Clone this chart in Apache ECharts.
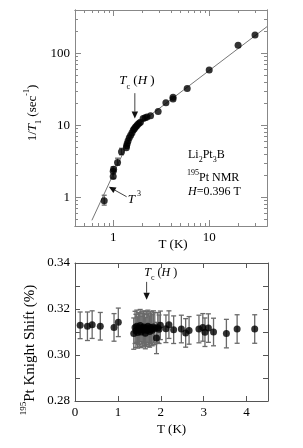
<!DOCTYPE html>
<html><head><meta charset="utf-8">
<script src="https://cdn.jsdelivr.net/npm/echarts@6/dist/echarts.min.js"></script>
<style>html,body{margin:0;padding:0;background:#fff}#c{width:303px;height:448px}</style>
</head><body><div id="c"></div>
<script>
// ---- Top panel: 1/T1 vs T (log-log) ----
const t1T    = [0.806, 1.0, 1.0, 1.01, 1.11, 1.22, 1.37, 1.38, 1.40, 1.43, 1.47, 1.52, 1.57, 1.62, 1.66, 1.70, 1.75, 1.80, 1.86, 1.92, 2.05, 2.15, 2.25, 2.45, 2.94, 3.54, 4.2, 4.2, 5.9, 10, 20, 30];
const t1Rate = [0.9, 1.95, 2.3, 2.45, 3.05, 4.3, 4.9, 5.2, 5.6, 6.1, 6.7, 7.3, 7.9, 8.6, 9.0, 9.4, 9.8, 10.3, 10.7, 11.0, 12.4, 12.8, 13.1, 13.6, 15.6, 20.6, 23.2, 24.5, 32.5, 58.5, 130, 180];
const t1ErrT  = [0.806, 1.0, 1.11, 1.22];
const t1ErrLo = [0.78, 1.84, 2.8, 3.9];
const t1ErrHi = [1.07, 2.66, 3.5, 4.8];
const fitT    = [0.6, 1.7, 40];
const fitRate = [0.48, 9.6, 235];
const topXMajor = [1, 10];
const topXMinor = [0.4,0.5,0.6,0.7,0.8,0.9,2,3,4,5,6,7,8,9,20,30,40];
const topYMajor = [1, 10, 100];
const topYMinor = [0.4,0.5,0.6,0.7,0.8,0.9,2,3,4,5,6,7,8,9,20,30,40,50,60,70,80,90,200,300,400];

// ---- Bottom panel: Knight shift vs T ----
const ksT = [0.12,0.29,0.40,0.59,0.91,1.01,
  1.37,1.40,1.42,1.44,1.46,1.48,1.50,1.52,1.54,1.56,1.58,1.60,1.62,1.64,1.66,1.68,1.70,1.72,1.74,1.76,1.78,1.80,1.83,1.86,1.90,1.93,1.96,1.99,
  2.12,2.19,2.30,2.48,2.58,2.66,2.89,2.98,3.03,3.11,3.23,3.53,3.78,4.19];
const ksVal = [0.3129,0.3125,0.3132,0.3125,0.3120,0.3142,
  0.3093,0.3120,0.3105,0.3125,0.3098,0.3115,0.3110,0.3128,0.3100,0.3118,0.3108,0.3122,0.3112,0.3095,0.3118,0.3106,0.3125,0.3110,0.3102,0.3120,0.3113,0.3108,0.3122,0.3115,0.3074,0.3119,0.3112,0.3129,
  0.3114,0.3132,0.3110,0.3113,0.3096,0.3107,0.3113,0.3120,0.3099,0.3117,0.3100,0.3093,0.3113,0.3113];
const ksErr = [0.0058,0.0062,0.0060,0.0060,0.0060,0.0062,
  0.0068,0.0070,0.0072,0.0070,0.0068,0.0070,0.0072,0.0070,0.0068,0.0070,0.0072,0.0070,0.0070,0.0068,0.0072,0.0070,0.0070,0.0072,0.0068,0.0070,0.0070,0.0068,0.0070,0.0070,0.0068,0.0065,0.0062,0.0062,
  0.0060,0.0060,0.0060,0.0060,0.0062,0.0060,0.0060,0.0060,0.0062,0.0062,0.0060,0.0062,0.0062,0.0062];

const FONT = 'Liberation Serif';
const AX = '#888';
const AX2 = '#555';
const chart = echarts.init(document.getElementById('c'), null, {renderer:'canvas'});

function errItem(params, api){
  const x = api.value(0), lo = api.value(1), hi = api.value(2);
  const a = api.coord([x, lo]), b = api.coord([x, hi]);
  const w = 2.5, st = {stroke:'#6a6a6a', lineWidth:1.3};
  return {type:'group', children:[
    {type:'line', shape:{x1:a[0],y1:a[1],x2:b[0],y2:b[1]}, style:st},
    {type:'line', shape:{x1:a[0]-w,y1:a[1],x2:a[0]+w,y2:a[1]}, style:st},
    {type:'line', shape:{x1:b[0]-w,y1:b[1],x2:b[0]+w,y2:b[1]}, style:st}
  ]};
}

function logAxis(pos, gridIndex, vals, len, showLabel, min, max){
  return {type:'log', logBase:10, gridIndex, position:pos, min, max,
    axisLine:{show:true, onZero:false, lineStyle:{color:AX, width:1}},
    axisTick:{show:true, inside:true, length:len, customValues:vals, lineStyle:{color:AX}},
    axisLabel:{show:showLabel, customValues:vals, fontFamily:FONT, fontSize:13, color:'#000', margin:5,
      formatter:v=>String(Math.round(v))},
    splitLine:{show:false}, minorTick:{show:false}};
}

const xAxes = [
  logAxis('bottom',0,topXMajor,6,true,0.4,40),
  logAxis('bottom',0,topXMinor,3,false,0.4,40),
  logAxis('top',0,topXMajor,6,false,0.4,40),
  logAxis('top',0,topXMinor,3,false,0.4,40),
  {type:'value', gridIndex:1, position:'bottom', min:0, max:4.5, interval:1,
    axisLine:{show:true,onZero:false,lineStyle:{color:AX2}},
    axisTick:{show:true,inside:true,length:5,lineStyle:{color:AX2}},
    axisLabel:{fontFamily:FONT,fontSize:13,color:'#000',margin:5, showMaxLabel:false},
    splitLine:{show:false},
    name:'T (K)', nameLocation:'middle', nameGap:22, nameTextStyle:{fontFamily:FONT,fontSize:13,color:'#000'}},
  {type:'value', gridIndex:1, position:'top', min:0, max:4.5, interval:1,
    axisLine:{show:true,onZero:false,lineStyle:{color:AX2}},
    axisTick:{show:true,inside:true,length:5,lineStyle:{color:AX2}},
    axisLabel:{show:false}, splitLine:{show:false}}
];
const yAxes = [
  logAxis('left',0,topYMajor,6,true,0.4,400),
  logAxis('left',0,topYMinor,3,false,0.4,400),
  logAxis('right',0,topYMajor,6,false,0.4,400),
  logAxis('right',0,topYMinor,3,false,0.4,400),
  {type:'value', gridIndex:1, position:'left', min:0.28, max:0.34, interval:0.01,
    axisLine:{show:true,onZero:false,lineStyle:{color:AX2}},
    axisTick:{show:true,inside:true,length:5,lineStyle:{color:AX2}},
    axisLabel:{fontFamily:FONT,fontSize:13,color:'#000',margin:5,
      formatter:v=>(Math.round(v*100)%2===0 ? v.toFixed(2) : '')},
    splitLine:{show:false}},
  {type:'value', gridIndex:1, position:'right', min:0.28, max:0.34, interval:0.01,
    axisLine:{show:true,onZero:false,lineStyle:{color:AX2}},
    axisTick:{show:true,inside:true,length:5,lineStyle:{color:AX2}},
    axisLabel:{show:false}, splitLine:{show:false}}
];

const option = {
  backgroundColor:'#fff',
  animation:false,
  grid:[
    {left:75, top:10, width:192, height:216},
    {left:75, top:263, width:193, height:138}
  ],
  xAxis:xAxes, yAxis:yAxes,
  series:[
    {type:'line', xAxisIndex:0, yAxisIndex:0, data:fitT.map((t,i)=>[t,fitRate[i]]), symbol:'none',
      lineStyle:{color:'#777', width:1}, z:1},
    {type:'custom', xAxisIndex:0, yAxisIndex:0, renderItem:errItem,
      data:t1ErrT.map((t,i)=>[t,t1ErrLo[i],t1ErrHi[i]]), z:2},
    {type:'scatter', xAxisIndex:0, yAxisIndex:0, data:t1T.map((t,i)=>[t,t1Rate[i]]),
      symbol:'circle', symbolSize:7, itemStyle:{color:'#000'}, z:3},
    {type:'custom', xAxisIndex:4, yAxisIndex:4, renderItem:errItem,
      data:ksT.map((t,i)=>[t,ksVal[i]-ksErr[i],ksVal[i]+ksErr[i]]), z:2},
    {type:'scatter', xAxisIndex:4, yAxisIndex:4, data:ksT.map((t,i)=>[t,ksVal[i]]),
      symbol:'circle', symbolSize:7, itemStyle:{color:'#000'}, z:3}
  ]
};
chart.setOption(option);

// ---- annotations, anchored in data coordinates ----
const P0 = v => chart.convertToPixel({xAxisIndex:0, yAxisIndex:0}, v);
const P1 = v => chart.convertToPixel({xAxisIndex:4, yAxisIndex:4}, v);
function mkRich(fs, ss, lh){
  return {
    n:{fontFamily:FONT, fontSize:fs, color:'#000', lineHeight:lh, verticalAlign:'middle'},
    i:{fontFamily:FONT, fontSize:fs, fontStyle:'italic', color:'#000', lineHeight:lh, verticalAlign:'middle'},
    s:{fontFamily:FONT, fontSize:ss, color:'#000', lineHeight:lh, verticalAlign:'bottom'},
    p:{fontFamily:FONT, fontSize:ss, color:'#000', lineHeight:lh, verticalAlign:'top'}
  };
}
const rich = mkRich(13, 8, 20);
const richS = mkRich(12, 8, 18);
const richL = mkRich(15, 9, 22);
function txt(pt, text, align, rr, rot){
  return {type:'text', x:pt[0], y:pt[1], rotation:rot||0, z:10,
    style:{text, rich:rr||rich, align:align||'center', verticalAlign:'middle'}};
}
function arrow(a, tip, col){
  const dx = tip[0]-a[0], dy = tip[1]-a[1], L = Math.hypot(dx,dy), ux = dx/L, uy = dy/L;
  const h = 7, w = 3.2;
  const bx = tip[0]-ux*h, by = tip[1]-uy*h;
  return [
    {type:'line', z:10, shape:{x1:a[0],y1:a[1],x2:bx,y2:by}, style:{stroke:col||'#444', lineWidth:1}},
    {type:'polygon', z:10, shape:{points:[[tip[0],tip[1]],[bx-uy*w,by+ux*w],[bx+uy*w,by-ux*w]]}, style:{fill:'#111'}}
  ];
}
const g = [];
// top panel
g.push(txt([173,245], '{n|T (K)}'));
g.push(txt(P0([1.77, 42]), '{i|T}{s|c}{n| (}{i|H}{n| )}'));
g.push(...arrow(P0([1.68, 28]), P0([1.68, 12.4])));
g.push(txt(P0([1.42, 0.93]), '{i|T}{p| 3}', 'left'));
g.push(...arrow(P0([1.38, 1.02]), P0([0.90, 1.40])));
g.push(txt([188,155], '{n|Li}{s|2}{n|Pt}{s|3}{n|B}', 'left', richS));
g.push(txt([187,178], '{p|195}{n|Pt NMR}', 'left', richS));
g.push(txt([188,192], '{i|H}{n|=0.396 T}', 'left', richS));
g.push(txt([33,113], '{n|1/}{i|T}{s|1}{n| (sec}{p|-1}{n|)}', 'center', rich, Math.PI/2));
// bottom panel
g.push(txt(P1([2.0, 0.3358]), '{i|T}{s|c}{n| (}{i|H}{n| )}', 'center', richS));
g.push(...arrow(P1([1.67, 0.3318]), P1([1.67, 0.3240])));
g.push(txt([30,350], '{p|195}{n|Pt Knight Shift (%)}', 'center', richL, Math.PI/2));
chart.setOption({graphic:g});
</script>
</body></html>
